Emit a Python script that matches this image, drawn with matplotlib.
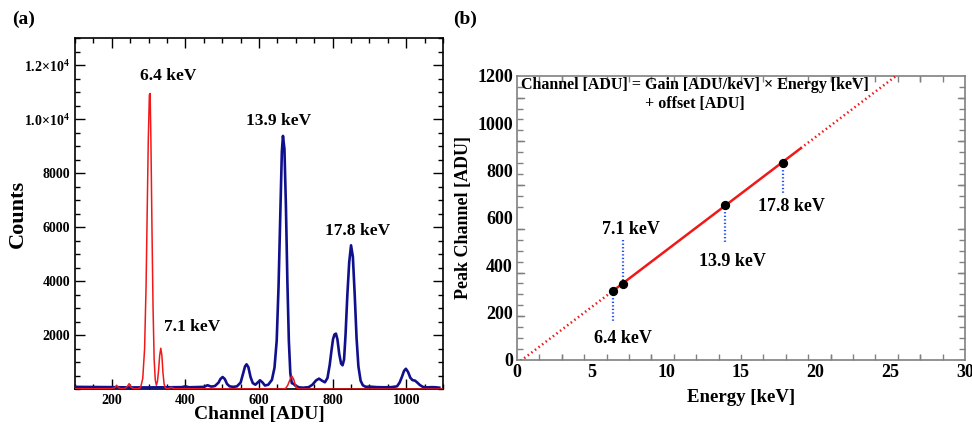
import matplotlib

matplotlib.use("Agg")
import matplotlib.pyplot as plt
import numpy as np
from matplotlib.ticker import FixedLocator, MultipleLocator

plt.rcParams["font.family"] = ["Liberation Serif", "DejaVu Serif"]
plt.rcParams["font.weight"] = "bold"
plt.rcParams["mathtext.fontset"] = "custom"
plt.rcParams["mathtext.rm"] = "Liberation Serif:bold"
plt.rcParams["mathtext.bf"] = "Liberation Serif:bold"

# ---- panel (a): spectra ----
blue_ch = [100, 150, 200, 250, 300, 350, 390, 400, 410, 450, 460, 470, 480, 490, 495,
           501, 507, 513, 520, 530, 540, 550, 557, 562, 566, 571, 577, 583, 590, 597,
           603, 609, 616, 625, 635, 642, 648, 653, 658, 662, 665, 669, 673, 677, 681,
           685, 689, 694, 700, 710, 720, 735, 745, 755, 763, 771, 779, 786, 792, 797,
           801, 805, 809, 813, 818, 823, 827, 831, 835, 840, 845, 850, 855, 860, 865,
           870, 876, 882, 890, 900, 920, 940, 960, 975, 982, 988, 994, 999, 1005, 1011,
           1017, 1024, 1030, 1037, 1045, 1055, 1070, 1080, 1090]
blue_counts = [90, 85, 80, 70, 70, 75, 80, 110, 75, 90, 150, 100, 120, 250, 380,
               455, 380, 200, 110, 90, 110, 250, 600, 850, 925, 820, 450, 230, 170, 260,
               330, 260, 140, 170, 350, 800, 1800, 3800, 6600, 8800, 9380, 8900, 6800, 4000, 1800,
               600, 230, 200, 120, 70, 60, 80, 170, 330, 395, 320, 260, 420, 900, 1450,
               1850, 2030, 2060, 1850, 1300, 950, 890, 1100, 2000, 3500, 4700, 5330, 4900, 3500, 1900,
               850, 320, 150, 90, 100, 80, 75, 80, 110, 250, 450, 680, 760, 640, 430,
               340, 320, 250, 160, 90, 70, 80, 75, 60]

red_ch = [100, 150, 200, 208, 213, 218, 225, 235, 242, 247, 252, 260, 270, 278, 284,
          289, 293, 296, 299, 302, 304, 306, 309, 312, 315, 318, 321, 324, 327, 330,
          333, 336, 339, 342, 345, 352, 358, 362, 366, 372, 400, 500, 600, 660, 672,
          678, 683, 689, 694, 698, 703, 710, 800, 1100]
red_counts = [20, 20, 25, 60, 150, 60, 20, 30, 100, 210, 80, 20, 20, 60, 400,
              1500, 3800, 6500, 9200, 10900, 10950, 9400, 6000, 3000, 1100, 350, 150, 300, 700, 1250,
              1520, 1250, 600, 200, 60, 20, 50, 80, 40, 20, 20, 15, 15, 10, 30,
              150, 320, 490, 380, 180, 40, 10, 10, 10]

peak_names = ["6.4 keV", "7.1 keV", "13.9 keV", "17.8 keV"]
spec_label_x = [353, 418, 652, 869]
spec_label_y = [11600, 2290, 9930, 5870]

# ---- panel (b): calibration ----
energies = [6.4, 7.1, 13.9, 17.8]
peak_channels = [291, 322, 655, 833]
drop_to = [155, 511, 496, 701]
cal_label_x = [7.1, 7.6, 14.4, 18.4]
cal_label_y = [91, 549, 415, 647]
fit_solid = [6.4, 19.0]
fit_dotted = [[0.0, 6.4], [19.0, 26.0]]

fig = plt.figure(figsize=(9.72, 4.28), dpi=100)

# (a)
ax = fig.add_axes([0.0772, 0.0904, 0.3786, 0.8206])
ax.plot(blue_ch, blue_counts, color="#10108c", lw=1.9, zorder=3)
ax.plot(red_ch, red_counts, color="#f01818", lw=1.1, zorder=4)
for name, x, y in zip(peak_names, spec_label_x, spec_label_y):
    ax.text(x, y, name, ha="center", va="center", fontsize=12.5, fontweight="bold")
ax.set_xlim(100, 1100)
ax.set_ylim(0, 13000)
ax.xaxis.set_major_locator(FixedLocator([200, 400, 600, 800, 1000]))
ax.xaxis.set_minor_locator(MultipleLocator(50))
ax.yaxis.set_major_locator(FixedLocator([2000, 4000, 6000, 8000, 10000, 12000]))
ax.yaxis.set_minor_locator(MultipleLocator(500))
ax.set_yticklabels(["2000", "4000", "6000", "8000",
                    r"1.0×10$^{4}$", r"1.2×10$^{4}$"])
ax.tick_params(which="both", direction="in", top=True, right=True, labelsize=10,
               width=1)
ax.tick_params(which="major", length=7)
ax.tick_params(which="minor", length=3.5)
ax.set_xlabel("Channel [ADU]", fontsize=14, fontweight="bold", labelpad=-1)
ax.set_ylabel("Counts", fontsize=16, fontweight="bold")
ax.yaxis.set_label_coords(-0.128, 0.5)
for s in ax.spines.values():
    s.set_linewidth(1.2)
fig.text(0.012, 0.955, "(a)", fontsize=14, fontweight="bold", va="center")

# (b)
bx = fig.add_axes([0.5319, 0.1589, 0.4609, 0.6641])
gain, offset = np.polyfit(energies, peak_channels, 1)
e = np.array(fit_solid)
bx.plot(e, gain * e + offset, color="#f01818", lw=1.8, zorder=3)
for seg in fit_dotted:
    e = np.array(seg)
    bx.plot(e, gain * e + offset, color="#f01818", lw=1.8, ls=(0, (0.6, 1.2)), zorder=3)
for en, ch, end in zip(energies, peak_channels, drop_to):
    bx.plot([en, en], [ch, end], color="#2050f0", lw=1.6, ls=(0, (0.6, 1.0)), zorder=2)
bx.scatter(energies, peak_channels, s=32, color="black", zorder=5)
for name, x, y in zip(peak_names, cal_label_x, cal_label_y):
    bx.text(x, y, name, ha="center", va="center", fontsize=13, fontweight="bold")
bx.text(0.3, 1161, "Channel [ADU] = Gain [ADU/keV] × Energy [keV]", ha="left",
        va="center", fontsize=11.5, fontweight="bold")
bx.text(11.9, 1079, "+ offset [ADU]", ha="center", va="center", fontsize=11.5,
        fontweight="bold")
bx.set_xlim(0, 30)
bx.set_ylim(0, 1200)
# label positions (no marks) plus ROOT-style tick marks
bx.set_xticks([0, 5, 10, 15, 20, 25, 30])
bx.set_yticks([0, 200, 400, 600, 800, 1000, 1200])
bx.xaxis.set_minor_locator(MultipleLocator(1.5))
bx.yaxis.set_minor_locator(MultipleLocator(1200 / 26))
bx.tick_params(which="major", length=0, labelsize=13, pad=3)
bx.tick_params(which="minor", direction="in", length=4, color="#808080",
               top=True, right=True, width=1)
for x in np.arange(3, 30, 6):
    bx.plot([x, x], [0, 22], color="#808080", lw=1)
    bx.plot([x, x], [1200, 1178], color="#808080", lw=1)
for y in np.arange(0, 1200, 1200 / 6.5):
    bx.plot([0, 0.5], [y, y], color="#808080", lw=1)
    bx.plot([30, 29.5], [y, y], color="#808080", lw=1)
for s in bx.spines.values():
    s.set_color("#808080")
    s.set_linewidth(1.2)
bx.set_xlabel("Energy [keV]", fontsize=13.5, fontweight="bold", labelpad=6)
bx.set_ylabel("Peak Channel [ADU]", fontsize=13, fontweight="bold", labelpad=4)
fig.text(0.466, 0.955, "(b)", fontsize=14, fontweight="bold", va="center")

fig.savefig("out.png", dpi=100)
